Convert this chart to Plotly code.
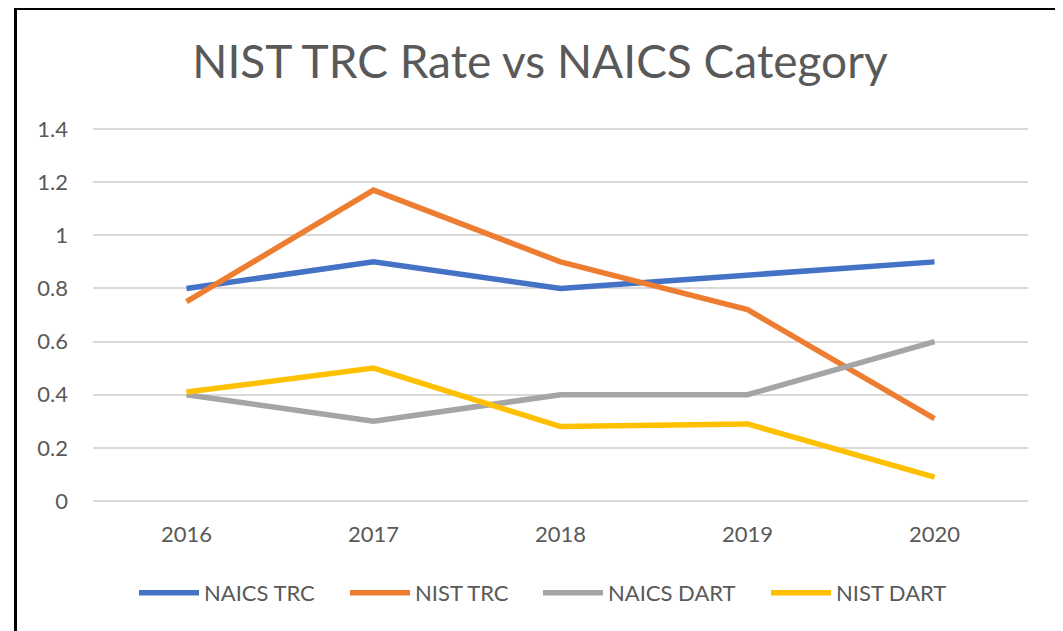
import plotly.graph_objects as go

# Data
years = ["2016", "2017", "2018", "2019", "2020"]
naics_trc = [0.8, 0.9, 0.8, 0.85, 0.9]
nist_trc = [0.75, 1.17, 0.9, 0.72, 0.31]
naics_dart = [0.4, 0.3, 0.4, 0.4, 0.6]
nist_dart = [0.41, 0.5, 0.28, 0.29, 0.09]
y_ticks = [0, 0.2, 0.4, 0.6, 0.8, 1, 1.2, 1.4]

series = [
    ("NAICS TRC", naics_trc, "#4472C4", 136),
    ("NIST TRC", nist_trc, "#ED7D31", 118),
    ("NAICS DART", naics_dart, "#A5A5A5", 153),
    ("NIST DART", nist_dart, "#FFC000", None),
]

# the page body has an 8px margin, so the figure is offset by 8px
OFF = 8
W, H = 1063 - OFF, 631 - OFF
L, R, T, B = 93 - OFF, 35, 128 - OFF, 129
pw, ph = W - L - R, H - T - B

fig = go.Figure()
for name, vals, color, lw in series:
    fig.add_trace(go.Scatter(
        x=years, y=vals, name=name, mode="lines",
        line=dict(color=color, width=5.5),
        legendwidth=lw,
    ))

# screenshot pixel -> paper coordinates
def px_x(p):
    return (p - OFF - L) / pw

def px_y(p):
    return (H - B - (p - OFF)) / ph

# Black frame around the chart (bottom edge is cut off in the picture)
fig.add_shape(type="rect", xref="paper", yref="paper",
              x0=px_x(15.5), x1=px_x(1058), y0=px_y(700), y1=px_y(8.5),
              line=dict(color="black", width=3), layer="above")

fig.update_layout(
    width=W, height=H,
    margin=dict(l=L, r=R, t=T, b=B, autoexpand=False),
    paper_bgcolor="white", plot_bgcolor="white",
    font=dict(family="Lato, Calibri, sans-serif", color="#595959"),
    title=dict(text="NIST TRC Rate vs NAICS Category",
               x=(540 - OFF) / W, xanchor="center",
               y=1 - (62 - OFF) / H, yanchor="middle",
               font=dict(size=46, color="#595959")),
    showlegend=True,
    legend=dict(orientation="h", x=px_x(134), xanchor="left",
                y=px_y(593), yanchor="middle",
                font=dict(size=22, color="#595959"),
                itemwidth=60, tracegroupgap=0),
    xaxis=dict(type="category", range=[-0.5, 4.5], showgrid=False,
               showline=False, zeroline=False, ticks="",
               tickfont=dict(size=22, color="#595959"), ticklabelstandoff=17),
    yaxis=dict(range=[-0.004, 1.404], tickvals=y_ticks,
               ticktext=[f"{v:g}" for v in y_ticks],
               showgrid=True, gridcolor="#D9D9D9", gridwidth=1.5,
               zeroline=False, showline=False, ticks="",
               tickfont=dict(size=22, color="#595959"), ticklabelstandoff=24),
)

fig.write_html("out.html")
